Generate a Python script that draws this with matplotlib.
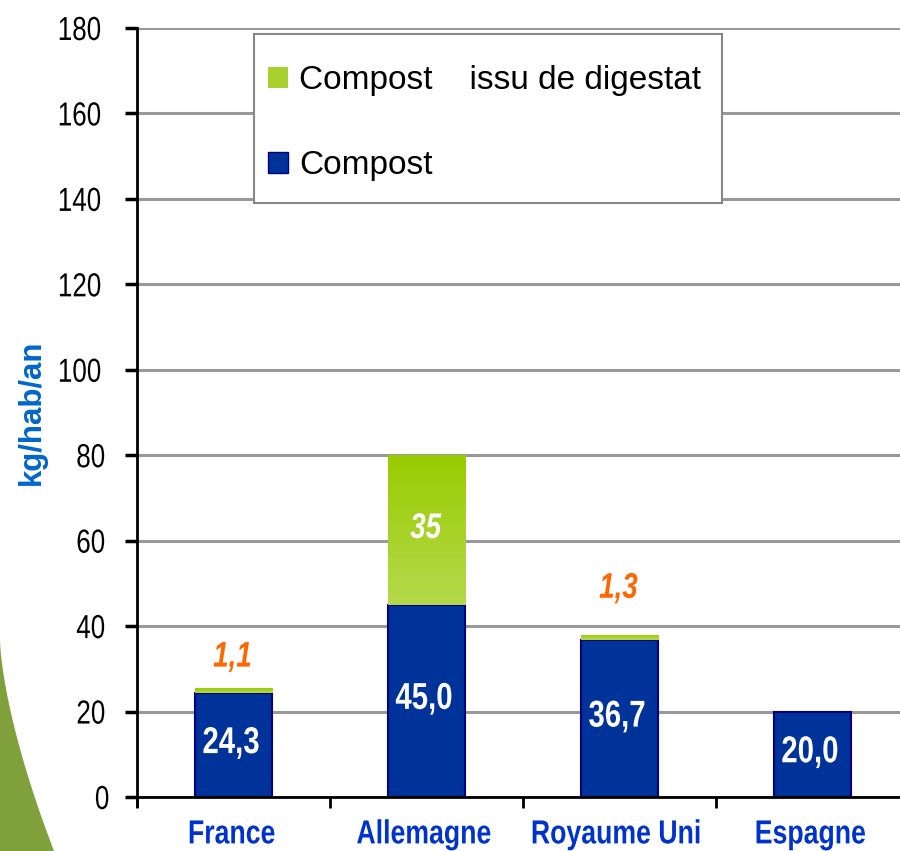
import matplotlib
matplotlib.use("Agg")
import matplotlib.pyplot as plt
import numpy as np
from matplotlib.patches import Rectangle, Polygon
from matplotlib.patheffects import AbstractPathEffect
from matplotlib.transforms import Affine2D
from matplotlib.colors import LinearSegmentedColormap

categories = ["France", "Allemagne", "Royaume Uni", "Espagne"]
compost = [24.3, 45.0, 36.7, 20.0]
digestat = [1.1, 35.0, 1.3, 0.0]
compost_labels = ["24,3", "45,0", "36,7", "20,0"]
digestat_labels = ["1,1", "35", "1,3", ""]
yticks = [0, 20, 40, 60, 80, 100, 120, 140, 160, 180]

# style: label offsets (in data units) for small orange labels
small_label_offset = [7.0, 0.0, 10.5, 0.0]

plt.rcParams['font.family'] = ['Liberation Sans', 'DejaVu Sans']


class Stretch(AbstractPathEffect):
    """Draw text condensed/elongated, like a narrow font."""
    def __init__(self, sx=1.0, sy=1.0):
        super().__init__()
        self.sx, self.sy = sx, sy

    def draw_path(self, renderer, gc, tpath, affine, rgbFace=None):
        renderer.draw_path(gc, tpath, Affine2D().scale(self.sx, self.sy) + affine, rgbFace)


fig = plt.figure(figsize=(9, 8.51), dpi=100)
# decorative green swoosh bottom-left
t = np.linspace(0, 1, 60)
xs = 0.060 * t ** 1.5
ys = 0.248 - 0.248 * t
pts = list(zip(xs, ys)) + [(0, 0)]
fig.patches.append(Polygon(pts, closed=True, transform=fig.transFigure,
                           facecolor="#80a03c", edgecolor="none", zorder=0))

ax = fig.add_axes([137/900, 54/851, 772/900, 769/851])
ax.set_facecolor("none")
x = np.arange(len(categories))
w = 0.40
blue = "#003399"
bars_c = ax.bar(x, compost, w, color=blue, edgecolor="#000080", linewidth=1.5, zorder=3)
bars_d = ax.bar(x, digestat, w, bottom=compost, color="#a8d12e", edgecolor="none", zorder=3)

# vertical gradient on green bars
grad = np.linspace(0, 1, 256).reshape(-1, 1)
cmap = LinearSegmentedColormap.from_list("g", ["#b5d94c", "#99cc00"])
for b in bars_d:
    if b.get_height() <= 0:
        continue
    x0, y0 = b.get_x(), b.get_y()
    im = ax.imshow(grad, extent=[x0, x0 + b.get_width(), y0, y0 + b.get_height()],
                   origin="lower", cmap=cmap, aspect="auto", zorder=3.1)
    im.set_clip_path(b)

ax.set_xlim(-0.5, 3.5)
ax.set_ylim(0, 180)
ax.set_yticks(yticks)
ax.set_yticklabels([str(v) for v in yticks], fontsize=24)
ax.yaxis.grid(True, color="#999999", linewidth=2.2, zorder=1)
ax.set_axisbelow(True)
for s in ["top", "right"]:
    ax.spines[s].set_visible(False)
ax.spines["left"].set_linewidth(2)
ax.spines["bottom"].set_linewidth(2)
ax.spines["left"].set_bounds(-2, 180)
ax.spines["bottom"].set_zorder(4)
ax.tick_params(axis="y", length=9, width=2.5, pad=8)

ax.set_xticks(np.arange(-0.5, 4.0, 1.0))
ax.set_xticklabels([])
ax.tick_params(axis="x", length=8, width=2, direction="out")
ax.set_xticks(x, minor=True)
ax.set_xticklabels(categories, minor=True, fontsize=20, fontweight="bold", color="#0033cc")
ax.tick_params(axis="x", which="minor", length=0, pad=19)

ax.set_ylabel("kg/hab/an", fontsize=22.5, fontweight="bold", color="#0066cc", labelpad=8)

for lab in ax.get_yticklabels():
    lab.set_path_effects([Stretch(0.78, 1.0)])
for lab in ax.get_xticklabels(minor=True):
    lab.set_path_effects([Stretch(0.96, 1.2)])

for i in range(len(categories)):
    tx = ax.text(x[i], compost[i] / 2, compost_labels[i], ha="center", va="center",
                 color="white", fontsize=23, fontweight="bold", zorder=5)
    tx.set_path_effects([Stretch(0.92, 1.17)])
    if digestat_labels[i]:
        if digestat[i] > 10:
            tx = ax.text(x[i], compost[i] + digestat[i] / 2, digestat_labels[i], ha="center",
                         va="center", color="white", fontsize=21, fontweight="bold",
                         style="italic", zorder=5)
        else:
            tx = ax.text(x[i], compost[i] + digestat[i] + small_label_offset[i],
                         digestat_labels[i], ha="center", va="center", color="#ff6600",
                         fontsize=21, fontweight="bold", style="italic", zorder=5)
        tx.set_path_effects([Stretch(0.95, 1.22)])

# legend frame
ax.add_patch(Rectangle((117/772, 594/769), 468/772, 169/769, transform=ax.transAxes,
                       facecolor="white", edgecolor="#888888", linewidth=1.5, zorder=2))
handles = [Rectangle((0, 0), 1, 1, facecolor="#a8d12e", edgecolor="none"),
           Rectangle((0, 0), 1, 1, facecolor=blue, edgecolor="#000080")]
leg = ax.legend(handles, ["Compost    issu de digestat", "Compost"],
                bbox_to_anchor=(131/772, 732/769), loc="upper left",
                fontsize=24, frameon=False,
                handlelength=0.6, handleheight=0.6, handletextpad=0.33,
                labelspacing=1.63, borderpad=0, borderaxespad=0)
leg.set_zorder(6)

fig.savefig("out.png", dpi=100)
